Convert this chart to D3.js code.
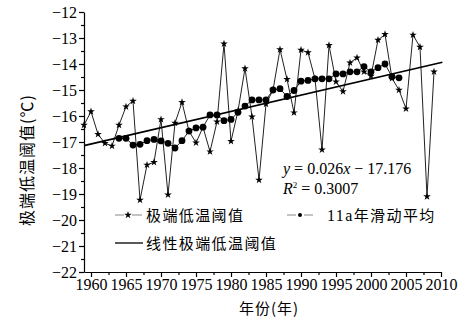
<!DOCTYPE html>
<html>
<head>
<meta charset="utf-8">
<script src="https://cdn.jsdelivr.net/npm/d3@7"></script>
<style>
  body { margin: 0; background: #fff; }
  svg { display: block; }
  text { fill: #000; }
</style>
</head>
<body>
<svg id="chart" width="465" height="325"></svg>
<script>
// ---- data ----
const years = [1959,1960,1961,1962,1963,1964,1965,1966,1967,1968,1969,1970,1971,1972,1973,1974,1975,1976,1977,1978,1979,1980,1981,1982,1983,1984,1985,1986,1987,1988,1989,1990,1991,1992,1993,1994,1995,1996,1997,1998,1999,2000,2001,2002,2003,2004,2005,2006,2007,2008,2009];
const extremeLow = [-16.35,-15.83,-16.70,-17.05,-17.15,-16.35,-15.64,-15.42,-19.23,-17.88,-17.78,-16.13,-19.03,-16.27,-15.47,-16.58,-17.03,-16.43,-17.37,-16.22,-13.22,-16.97,-15.80,-14.17,-16.03,-18.46,-15.54,-15.00,-13.44,-14.59,-15.87,-13.46,-13.56,-14.57,-17.30,-13.28,-14.68,-15.06,-13.95,-13.76,-14.30,-14.46,-13.08,-12.86,-14.55,-15.00,-15.72,-12.88,-13.35,-19.10,-14.30];
const maYears = [1964,1965,1966,1967,1968,1969,1970,1971,1972,1973,1974,1975,1976,1977,1978,1979,1980,1981,1982,1983,1984,1985,1986,1987,1988,1989,1990,1991,1992,1993,1994,1995,1996,1997,1998,1999,2000,2001,2002,2003,2004];
const movingAvg = [-16.86,-16.86,-17.12,-17.09,-16.95,-16.90,-16.96,-17.05,-17.23,-16.95,-16.58,-16.46,-16.43,-15.96,-15.96,-16.18,-16.13,-15.86,-15.62,-15.38,-15.38,-15.38,-15.00,-14.95,-15.25,-15.02,-14.66,-14.63,-14.57,-14.57,-14.57,-14.38,-14.38,-14.30,-14.30,-14.10,-14.30,-14.14,-14.00,-14.49,-14.53];
const trendYears = [1959, 2010.2];
const trendValues = [-17.14, -13.93];
const xTicks = [1960,1965,1970,1975,1980,1985,1990,1995,2000,2005,2010];
const yTicks = [-12,-13,-14,-15,-16,-17,-18,-19,-20,-21,-22];
const legendLabels = ["极端低温阈值", "11a年滑动平均", "线性极端低温阈值"];
const xTitle = "年份(年)";
const yTitle = "极端低温阈值(℃)";

// ---- scales ----
const svg = d3.select("#chart");
const x = d3.scaleLinear().domain([1959, 2010]).range([84, 441]);
const y = d3.scaleLinear().domain([-22, -12]).range([272, 12]);
const serif = "'Liberation Serif', 'DejaVu Serif', serif";
const cjk = "'Noto Sans CJK SC', sans-serif";

// ---- axes ----
const xMinor = d3.range(1960, 2010.1, 2.5).filter(v => !xTicks.includes(v));
const yMinor = d3.range(-21.5, -12, 1);

const gx = svg.append("g").attr("transform", "translate(0,272)");
gx.call(d3.axisBottom(x).tickValues(xTicks).tickFormat(d3.format("d")).tickSize(5).tickSizeOuter(0));
gx.append("g").call(d3.axisBottom(x).tickValues(xMinor).tickFormat("").tickSize(3).tickSizeOuter(0))
  .select(".domain").remove();
gx.selectAll("text").attr("font-family", serif).attr("font-size", 16).attr("y", 7).attr("dy", "0.71em").attr("fill", "#000");

const gy = svg.append("g").attr("transform", "translate(84,0)");
gy.call(d3.axisLeft(y).tickValues(yTicks).tickFormat(d => "\u2212" + Math.abs(d)).tickSize(5).tickSizeOuter(0));
gy.append("g").call(d3.axisLeft(y).tickValues(yMinor).tickFormat("").tickSize(3).tickSizeOuter(0))
  .select(".domain").remove();
gy.selectAll("text").attr("font-family", serif).attr("font-size", 16).attr("fill", "#000").attr("x", -7);

svg.selectAll(".domain, .tick line").attr("stroke", "#000").attr("stroke-width", 1.2);

// ---- titles ----
svg.append("text").attr("x", 269).attr("y", 314).attr("text-anchor", "middle")
  .attr("font-family", cjk).attr("font-size", 15).attr("letter-spacing", 1).text(xTitle);
svg.append("text").attr("transform", "translate(33,160) rotate(-90)").attr("text-anchor", "middle")
  .attr("font-family", cjk).attr("font-size", 16).attr("letter-spacing", 1).text(yTitle);

// ---- extreme low series ----
const pts = years.map((yr, i) => [yr, extremeLow[i]]);
svg.append("path").datum(pts)
  .attr("d", d3.line().x(d => x(d[0])).y(d => y(d[1])))
  .attr("fill", "none").attr("stroke", "#222").attr("stroke-width", 1);

// ---- moving average ----
const ma = maYears.map((yr, i) => [yr, movingAvg[i]]);
svg.append("path").datum(ma)
  .attr("d", d3.line().x(d => x(d[0])).y(d => y(d[1])))
  .attr("fill", "none").attr("stroke", "#222").attr("stroke-width", 1);

// ---- trend ----
svg.append("path").datum(trendYears.map((yr, i) => [yr, trendValues[i]]))
  .attr("d", d3.line().x(d => x(d[0])).y(d => y(d[1])))
  .attr("fill", "none").attr("stroke", "#000").attr("stroke-width", 1.6);

svg.selectAll(".dot").data(ma).enter().append("circle")
  .attr("cx", d => x(d[0])).attr("cy", d => y(d[1])).attr("r", 3.4).attr("fill", "#000");

const star = d3.symbol().type(d3.symbolStar).size(18);
svg.selectAll(".star").data(pts).enter().append("path")
  .attr("d", star).attr("transform", d => `translate(${x(d[0])},${y(d[1])})`).attr("fill", "#000");

// ---- equation ----
const eq = svg.append("text").attr("x", 283).attr("y", 174).attr("font-family", serif).attr("font-size", 16);
eq.append("tspan").attr("font-style", "italic").text("y");
eq.append("tspan").text(" = 0.026");
eq.append("tspan").attr("font-style", "italic").text("x");
eq.append("tspan").text(" \u2212 17.176");
const r2 = svg.append("text").attr("x", 283).attr("y", 194).attr("font-family", serif).attr("font-size", 16);
r2.append("tspan").attr("font-style", "italic").text("R");
r2.append("tspan").attr("font-size", 9).attr("dy", -6).text("2");
r2.append("tspan").attr("dy", 6).text(" = 0.3007");

// ---- legend ----
const lg = svg.append("g");
// item 1
lg.append("line").attr("x1", 115).attr("x2", 124).attr("y1", 215).attr("y2", 215).attr("stroke", "#888").attr("stroke-width", 1);
lg.append("line").attr("x1", 132).attr("x2", 142).attr("y1", 215).attr("y2", 215).attr("stroke", "#888").attr("stroke-width", 1);
lg.append("path").attr("d", star).attr("transform", "translate(128,215)").attr("fill", "#000");
lg.append("text").attr("x", 146).attr("y", 221).attr("font-family", cjk).attr("font-size", 15).attr("letter-spacing", 1.4).text(legendLabels[0]);
// item 2
lg.append("line").attr("x1", 287).attr("x2", 296).attr("y1", 215).attr("y2", 215).attr("stroke", "#888").attr("stroke-width", 1);
lg.append("line").attr("x1", 304).attr("x2", 313).attr("y1", 215).attr("y2", 215).attr("stroke", "#888").attr("stroke-width", 1);
lg.append("circle").attr("cx", 300).attr("cy", 215).attr("r", 2).attr("fill", "#000");
const t2 = lg.append("text").attr("x", 327).attr("y", 221).attr("font-size", 15).attr("letter-spacing", 1.4);
t2.append("tspan").attr("font-family", serif).attr("font-size", 16).text("11a");
t2.append("tspan").attr("font-family", cjk).text("年滑动平均");
// item 3
lg.append("line").attr("x1", 115).attr("x2", 143).attr("y1", 243).attr("y2", 243).attr("stroke", "#000").attr("stroke-width", 1.3);
lg.append("text").attr("x", 146).attr("y", 249).attr("font-family", cjk).attr("font-size", 15).attr("letter-spacing", 1.4).text(legendLabels[2]);
</script>
</body>
</html>
